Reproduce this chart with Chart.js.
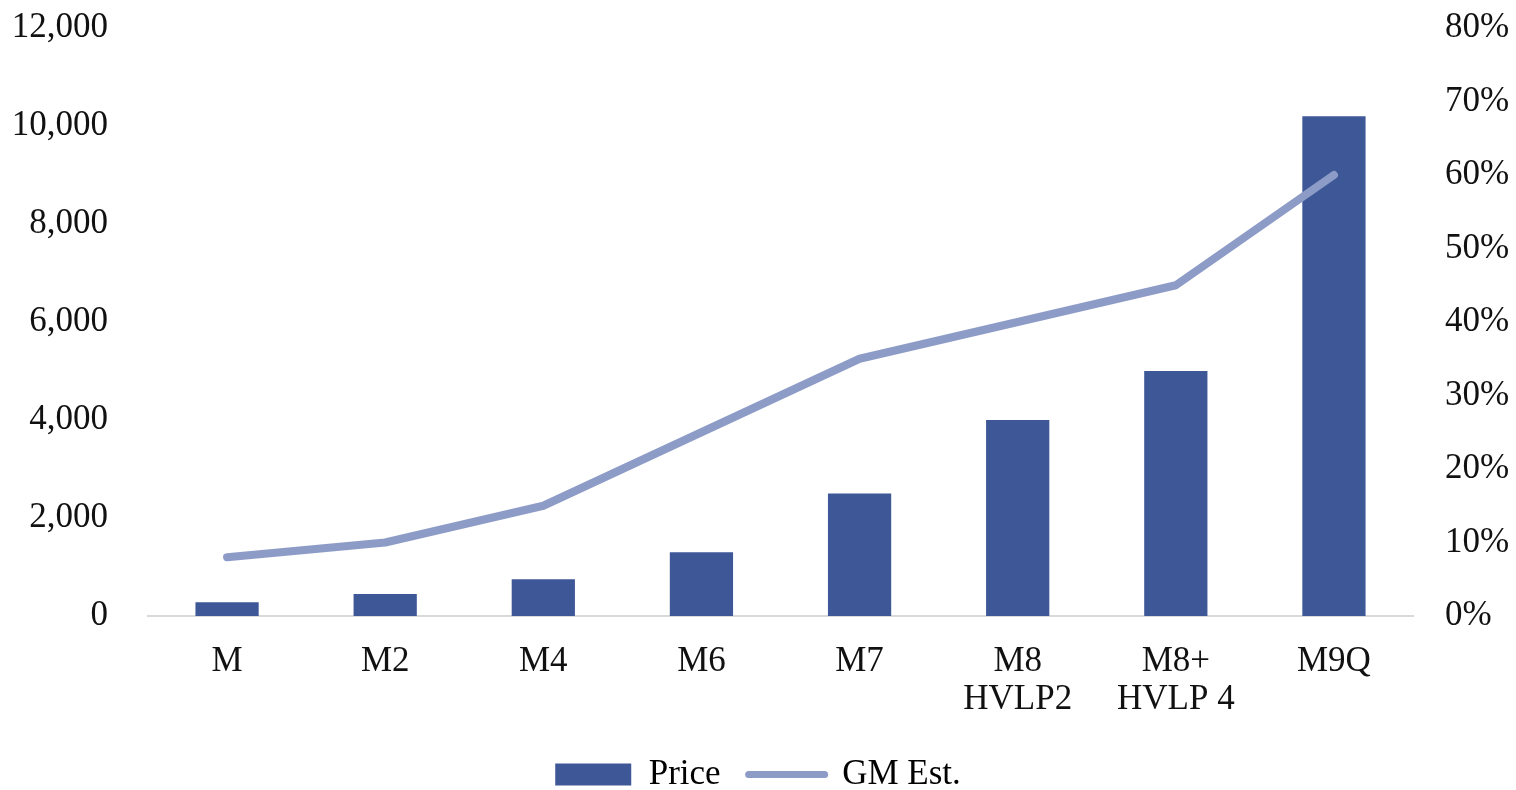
<!DOCTYPE html>
<html>
<head>
<meta charset="utf-8">
<script src="https://cdn.jsdelivr.net/npm/chart.js@4"></script>
<style>
  html, body { margin: 0; padding: 0; background: #fff; }
  #wrap { width: 1516px; height: 790px; }
</style>
</head>
<body>
<div id="wrap"><canvas id="chart-price"></canvas></div>
<script>
const categories = ['M', 'M2', 'M4', 'M6', 'M7', ['M8', 'HVLP2'], ['M8+', 'HVLP 4'], 'M9Q'];
const priceData = [280, 450, 750, 1300, 2500, 4000, 5000, 10200];
const gmData = [8, 10, 15, 25, 35, 40, 45, 60];

const barColor = '#3e5897';
const lineColor = '#8d9bc7';
const fontFamily = `'Liberation Serif', 'Times New Roman', serif`;

// plot box edges in the source picture
const plotTop = 28;
const plotBottom = 616;
const legendMiddle = 776;

Chart.defaults.font.family = fontFamily;
Chart.defaults.font.size = 35;
Chart.defaults.font.lineHeight = 1.08;
Chart.defaults.color = '#111';

// move the legend row down without changing its item spacing
const legendShift = {
  id: 'legendShift',
  afterLayout: (chart) => {
    const lg = chart.legend;
    const itemHeight = lg._itemHeight || 38;
    const d = legendMiddle - (lg.top + lg.options.labels.padding + itemHeight / 2);
    lg.top += d;
    lg.bottom += d;
  }
};

const priceCanvas = document.getElementById('chart-price');
const priceChart = new Chart(priceCanvas, {
  data: {
    labels: categories,
    datasets: [
      {
        type: 'bar',
        label: 'Price',
        data: priceData,
        backgroundColor: barColor,
        yAxisID: 'y',
        barPercentage: 0.8,
        categoryPercentage: 0.5,
        order: 2
      },
      {
        type: 'line',
        label: 'GM Est.',
        data: gmData,
        borderColor: lineColor,
        borderWidth: 8,
        borderCapStyle: 'round',
        borderJoinStyle: 'round',
        pointRadius: 0,
        tension: 0,
        yAxisID: 'y1',
        order: 1
      }
    ]
  },
  plugins: [legendShift],
  options: {
    responsive: true,
    maintainAspectRatio: false,
    animation: false,
    layout: { padding: 0 },
    plugins: {
      tooltip: { enabled: false },
      legend: {
        position: 'bottom',
        labels: {
          usePointStyle: true,
          pointStyleWidth: 76,
          boxHeight: 22,
          padding: 28,
          generateLabels: (chart) => [
            { text: 'Price', fillStyle: barColor, strokeStyle: barColor, lineWidth: 0, pointStyle: 'rect', datasetIndex: 0 },
            { text: 'GM Est.', fillStyle: lineColor, strokeStyle: lineColor, lineWidth: 7, lineCap: 'round', pointStyle: 'line', datasetIndex: 1 }
          ]
        }
      }
    },
    scales: {
      x: {
        grid: { display: false, drawTicks: false },
        border: { display: true, color: '#d9d9d9', width: 2 },
        ticks: { padding: 27, maxRotation: 0, autoSkip: false },
        afterFit: (scale) => { scale.height = 790 - plotBottom - scale.chart.legend.height; }
      },
      y: {
        position: 'left',
        min: 0,
        max: 12000,
        grid: { display: false, drawTicks: false },
        border: { display: false },
        ticks: {
          stepSize: 2000,
          padding: 40,
          callback: (v) => v.toLocaleString('en-US')
        },
        afterFit: (scale) => { scale.width = 148; scale.paddingTop = plotTop; }
      },
      y1: {
        position: 'right',
        min: 0,
        max: 80,
        grid: { display: false, drawTicks: false },
        border: { display: false },
        ticks: {
          stepSize: 10,
          padding: 32,
          callback: (v) => v + '%'
        },
        afterFit: (scale) => { scale.width = 103; scale.paddingTop = plotTop; }
      }
    }
  }
});
</script>
</body>
</html>
